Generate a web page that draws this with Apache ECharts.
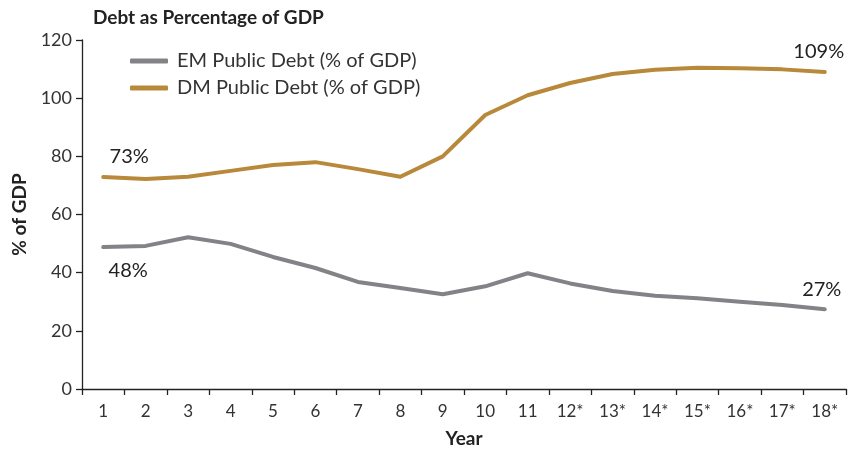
<!DOCTYPE html>
<html>
<head>
<meta charset="utf-8">
<script src="https://cdn.jsdelivr.net/npm/echarts@6/dist/echarts.min.js"></script>
<style>
  html, body { margin: 0; padding: 0; background: #fff; }
  #chart { width: 860px; height: 452px; }
</style>
</head>
<body>
<div id="chart"></div>
<script>
// data
var years = ["1", "2", "3", "4", "5", "6", "7", "8", "9", "10", "11", "12*", "13*", "14*", "15*", "16*", "17*", "18*"];
var emDebt = [48.8, 49.2, 52.2, 49.9, 45.4, 41.6, 36.8, 34.7, 32.6, 35.3, 39.8, 36.3, 33.7, 32.1, 31.2, 30.0, 28.9, 27.4];
var dmDebt = [72.9, 72.2, 73.0, 75.0, 77.0, 78.0, 75.6, 73.0, 80.0, 94.2, 101.0, 105.2, 108.3, 109.8, 110.5, 110.3, 109.9, 109.0];
// annotations printed at the first and last point
var emEndLabels = ["48%", "27%"];
var dmEndLabels = ["73%", "109%"];
var yTicks = [0, 20, 40, 60, 80, 100, 120];

var font = "Lato, 'Open Sans', sans-serif";
var grayC = "#838287";
var goldC = "#b8893a";

function labelled(values, texts, posFirst, posLast, offFirst, offLast) {
  return values.map(function (v, i) {
    var item = { value: v };
    if (i === 0 || i === values.length - 1) {
      var last = i === values.length - 1;
      item.label = {
        show: true,
        position: last ? posLast : posFirst,
        offset: last ? offLast : offFirst,
        formatter: last ? texts[1] : texts[0],
        fontFamily: font,
        fontSize: 20,
        color: "#222"
      };
    }
    return item;
  });
}

var chart = echarts.init(document.getElementById("chart"));
var option = {
  animation: false,
  title: {
    text: "Debt as Percentage of GDP",
    left: 88,
    top: 3,
    textStyle: { fontFamily: font, fontSize: 19, fontWeight: "bold", color: "#222" }
  },
  legend: {
    orient: "vertical",
    left: 125,
    top: 46,
    itemWidth: 38,
    itemHeight: 5,
    itemGap: 7,
    icon: "roundRect",
    textStyle: { fontFamily: font, fontSize: 20, color: "#333", padding: [0, 0, 0, 4] },
    data: ["EM Public Debt (% of GDP)", "DM Public Debt (% of GDP)"]
  },
  grid: { left: 82, right: 14, top: 40, bottom: 63, outerBoundsMode: "none" },
  xAxis: {
    type: "category",
    data: years,
    boundaryGap: true,
    name: "Year",
    nameLocation: "middle",
    nameGap: 40,
    nameTextStyle: { fontFamily: font, fontSize: 19, fontWeight: "bold", color: "#222" },
    axisLine: { lineStyle: { color: "#222", width: 1.3 } },
    axisTick: { show: true, alignWithLabel: false, length: 6, lineStyle: { color: "#222", width: 1.3 } },
    axisLabel: { fontFamily: font, fontSize: 17, color: "#333", margin: 14 }
  },
  yAxis: {
    type: "value",
    min: yTicks[0],
    max: yTicks[yTicks.length - 1],
    interval: 20,
    name: "% of GDP",
    nameLocation: "middle",
    nameGap: 52,
    nameTextStyle: { fontFamily: font, fontSize: 19, fontWeight: "bold", color: "#222" },
    axisLine: { show: true, lineStyle: { color: "#222", width: 1.3 } },
    axisTick: { show: true, length: 6, lineStyle: { color: "#222", width: 1.3 } },
    axisLabel: { fontFamily: font, fontSize: 18, color: "#333", margin: 10 },
    splitLine: { show: false }
  },
  series: [
    {
      name: "EM Public Debt (% of GDP)",
      type: "line",
      symbol: "circle",
      symbolSize: 0,
      showSymbol: true,
      color: grayC,
      lineStyle: { width: 4, color: grayC, cap: "round", join: "round" },
      data: labelled(emDebt, emEndLabels, "bottom", "top", [25, 8], [-3, -5])
    },
    {
      name: "DM Public Debt (% of GDP)",
      type: "line",
      symbol: "circle",
      symbolSize: 0,
      showSymbol: true,
      color: goldC,
      lineStyle: { width: 4, color: goldC, cap: "round", join: "round" },
      data: labelled(dmDebt, dmEndLabels, "top", "top", [26, -5], [-6, -5])
    }
  ]
};
chart.setOption(option);
window.addEventListener("resize", function () {
  chart.resize();
});
</script>
</body>
</html>
